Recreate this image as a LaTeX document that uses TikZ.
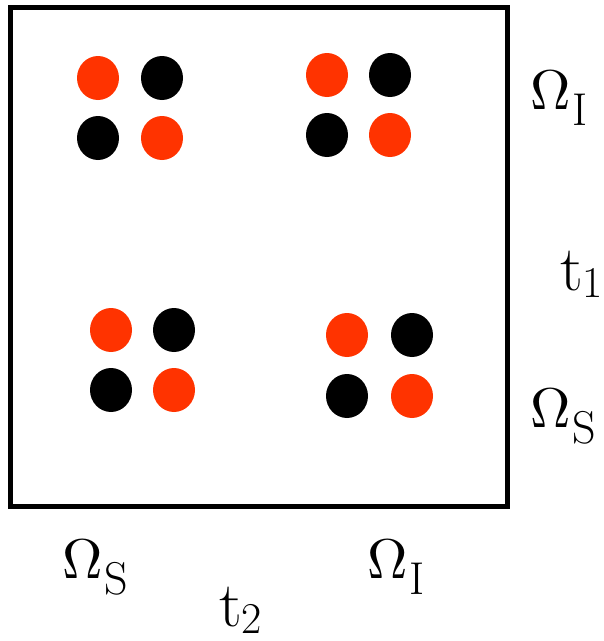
\documentclass[tikz,border=0pt]{standalone}
\usepackage{unicode-math}
\definecolor{dotred}{HTML}{FF3300}
\newcommand{\lab}[2]{\fontsize{56}{60}\selectfont$\Omega$\kern2pt\raisebox{-16pt}{\fontsize{46}{50}\selectfont #2}}
\newcommand{\tlab}[2]{\fontsize{64}{70}\selectfont #1\raisebox{-7pt}{\fontsize{44}{48}\selectfont #2}}
\begin{document}
\begin{tikzpicture}[x=1pt,y=-1pt,
  lbl/.style={anchor=base west,inner sep=0pt,outer sep=0pt}]
\useasboundingbox (0,0) rectangle (604,641);
\fill[white] (0,0) rectangle (604,641);
\draw[line width=5pt] (10,7) rectangle (507,506);
\foreach \cx/\cy/\dx/\dy in {98/78/64/60, 327/75/63/60, 111/330/63/60, 347/335/65/61}{
  \fill[dotred] (\cx,\cy) ellipse [x radius=21, y radius=22];
  \fill[black] (\cx+\dx,\cy) ellipse [x radius=21, y radius=22];
  \fill[black] (\cx,\cy+\dy) ellipse [x radius=21, y radius=22];
  \fill[dotred] (\cx+\dx,\cy+\dy) ellipse [x radius=21, y radius=22];
}
\node[lbl] (oiR) at (530,109) {\lab{}{I}};
\node[lbl] (t1) at (560,290) {\tlab{t}{1}};
\node[lbl] (osR) at (530,427) {\lab{}{S}};
\node[lbl] (osB) at (62,578) {\lab{}{S}};
\node[lbl] (t2) at (219,626) {\tlab{t}{2}};
\node[lbl] (oiB) at (367,578) {\lab{}{I}};
\end{tikzpicture}
\end{document}
